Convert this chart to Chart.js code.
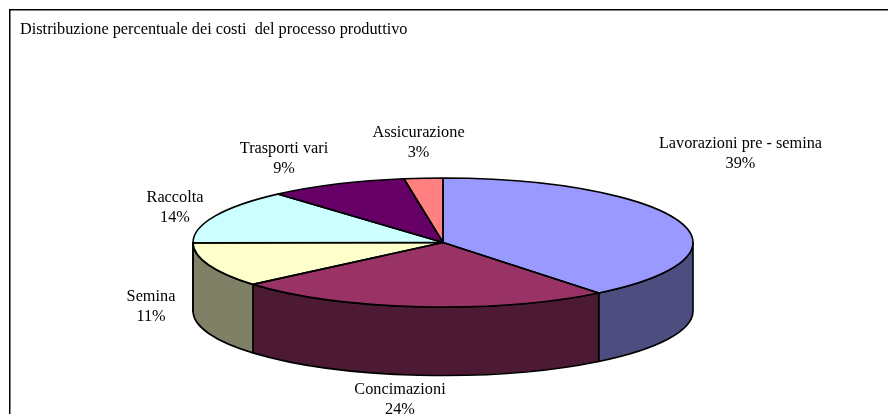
<!DOCTYPE html>
<html>
<head>
<meta charset="utf-8">
<style>html,body{margin:0;padding:0;background:#fff;overflow:hidden}canvas{display:block}</style>
<script src="https://cdn.jsdelivr.net/npm/chart.js@4"></script>
</head>
<body>
<canvas id="c" width="888" height="414"></canvas>
<script>
const titleText = 'Distribuzione percentuale dei costi  del processo produttivo';
const categories = ['Lavorazioni pre - semina','Concimazioni','Semina','Raccolta','Trasporti vari','Assicurazione'];
const shares = [39.3, 24.45, 11.15, 13.6, 9.0, 2.5];
const topColors = ['#9999ff','#993366','#ffffcc','#ccffff','#660066','#ff8080'];
const sideColors = ['#4d4d80','#4d1a33','#808066','#668080','#330033','#804040'];
const labelCenters = [[740.5,143.5],[400,390],[151,296.5],[175,197.5],[284,148.5],[418.5,132.5]];

const rx = 250, ry = 64.5, depth = 68.5;
const FONT = '"Liberation Serif","Times New Roman",serif';

const pie3d = {
  id: 'pie3d',
  beforeDraw(chart) {
    const c = chart.ctx;
    c.save();
    c.strokeStyle = '#000'; c.lineWidth = 1.5;
    c.beginPath();
    c.moveTo(9.75, 414); c.lineTo(9.75, 9.75); c.lineTo(888, 9.75);
    c.stroke();
    c.restore();
  },
  beforeDatasetsDraw(chart) {
    const c = chart.ctx, arcs = chart.getDatasetMeta(0).data;
    const cx = arcs[0].x, cy = arcs[0].y;
    c.save();
    c.lineWidth = 1.6; c.strokeStyle = '#000'; c.lineJoin = 'round';
    arcs.forEach((a, i) => {
      const a0 = Math.max(a.startAngle, 0), a1 = Math.min(a.endAngle, Math.PI);
      if (a1 <= a0) return;
      c.beginPath();
      c.ellipse(cx, cy, rx, ry, 0, a0, a1);
      c.ellipse(cx, cy + depth, rx, ry, 0, a1, a0, true);
      c.closePath();
      c.fillStyle = sideColors[i];
      c.fill();
      c.stroke();
    });
    c.restore();
    c.save();
    c.translate(cx, cy);
    c.scale(1, ry / rx);
    c.translate(-cx, -cy);
  },
  afterDatasetsDraw(chart) {
    const c = chart.ctx, arcs = chart.getDatasetMeta(0).data;
    c.restore();
    const cx = arcs[0].x, cy = arcs[0].y;
    c.save();
    c.lineWidth = 1.6; c.strokeStyle = '#000'; c.lineJoin = 'round';
    arcs.forEach(a => {
      c.beginPath();
      c.moveTo(cx, cy);
      c.ellipse(cx, cy, rx, ry, 0, a.startAngle, a.endAngle);
      c.closePath();
      c.stroke();
    });
    c.fillStyle = '#000';
    c.font = '16.3px ' + FONT;
    c.textAlign = 'center';
    c.textBaseline = 'middle';
    categories.forEach((name, i) => {
      const [x, y] = labelCenters[i];
      c.fillText(name, x, y);
      c.fillText(Math.round(shares[i]) + '%', x, y + 20);
    });
    c.restore();
  }
};

new Chart(document.getElementById('c'), {
  type: 'pie',
  data: {
    labels: categories,
    datasets: [{
      data: shares,
      backgroundColor: topColors,
      borderWidth: 0,
      radius: rx,
      clip: false
    }]
  },
  options: {
    responsive: false,
    animation: false,
    layout: { padding: { left: 20, right: 22, top: 20, bottom: 0 } },
    plugins: {
      legend: { display: false },
      tooltip: { enabled: false },
      title: {
        display: true,
        text: titleText,
        align: 'start',
        color: '#000',
        font: { family: FONT, size: 16.3, weight: 'normal', lineHeight: 1.2 },
        padding: { top: 0, bottom: 31.4 }
      }
    }
  },
  plugins: [pie3d]
});
</script>
</body>
</html>
